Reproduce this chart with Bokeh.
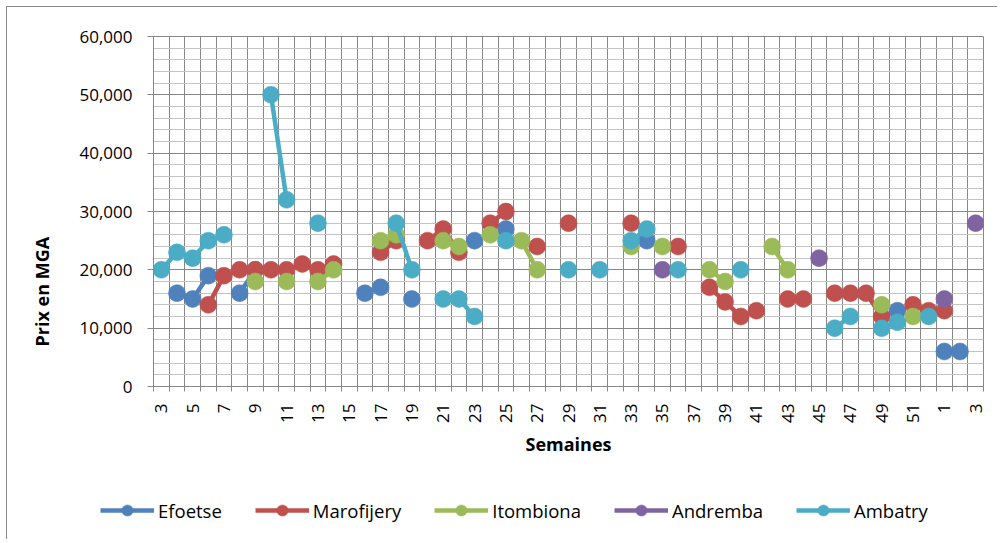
import math
import numpy as np
from bokeh.plotting import figure
from bokeh.layouts import column
from bokeh.models import (Range1d, FixedTicker, NumeralTickFormatter, Legend,
                          LegendItem, Title, ColumnDataSource)
from bokeh.embed import file_html
from bokeh.resources import INLINE

N = None

# Week labels (categories): weeks 3..52 then 1, 2, 3 of the following year
weeks = [str(w) for w in range(3, 53)] + ["1", "2", "3"]

#            3..12 / 13..22 / 23..32 / 33..42 / 43..52 / 1..3
efoetse = [N, 16000, 15000, 19000, N, 16000, 20000, N, N, N,
           N, N, N, 16000, 17000, N, 15000, N, N, N,
           25000, N, 27000, N, N, N, N, N, N, N,
           N, 25000, N, N, N, N, N, N, N, N,
           N, N, N, N, N, N, N, 13000, N, N,
           6000, 6000, N]

marofijery = [N, N, N, 14000, 19000, 20000, 20000, 20000, 20000, 21000,
              20000, 21000, N, N, 23000, 25000, N, 25000, 27000, 23000,
              N, 28000, 30000, N, 24000, N, 28000, N, N, N,
              28000, N, N, 24000, N, 17000, 14500, 12000, 13000, N,
              15000, 15000, N, 16000, 16000, 16000, 12000, N, 14000, 13000,
              13000, N, N]

itombiona = [N, N, N, N, N, N, 18000, N, 18000, N,
             18000, 20000, N, N, 25000, 26000, N, N, 25000, 24000,
             N, 26000, N, 25000, 20000, N, N, N, N, N,
             24000, N, 24000, N, N, 20000, 18000, N, N, 24000,
             20000, N, N, N, N, N, 14000, N, 12000, N,
             N, N, N]

andremba = [N, N, N, N, N, N, N, N, N, N,
            N, N, N, N, N, N, N, N, N, N,
            N, N, N, N, N, N, N, N, N, N,
            N, N, 20000, N, N, N, N, N, N, N,
            N, N, 22000, N, N, N, N, N, N, N,
            15000, N, 28000]

ambatry = [20000, 23000, 22000, 25000, 26000, N, N, 50000, 32000, N,
           28000, N, N, N, N, 28000, 20000, N, 15000, 15000,
           12000, N, 25000, N, N, N, 20000, N, 20000, N,
           25000, 27000, N, 20000, N, N, N, 20000, N, N,
           N, N, N, 10000, 12000, N, 10000, 11000, N, 12000,
           N, N, N]

series_names = ["Efoetse", "Marofijery", "Itombiona", "Andremba", "Ambatry"]
series_values = [efoetse, marofijery, itombiona, andremba, ambatry]
series_colors = ["#4F81BD", "#C0504D", "#9BBB59", "#8064A2", "#4BACC6"]

y_ticks = [0, 10000, 20000, 30000, 40000, 50000, 60000]

GRID = "#878787"
MINOR = "#c4c4c4"
FONT = "Open Sans"
LINE_W = 4.5
MARKER = 17

n = len(weeks)
xs = np.arange(n, dtype=float)

# ---------------- main chart ----------------
p = figure(width=990, height=470, output_backend="svg", toolbar_location=None,
           x_range=Range1d(-0.5, n - 0.5), y_range=Range1d(0, 60000),
           min_border_left=146, min_border_right=14, min_border_top=29,
           min_border_bottom=91)
p.frame_align = False
p.background_fill_color = "white"
p.border_fill_color = "white"
p.outline_line_color = GRID
p.outline_line_width = 1

# x axis: labels on every other week, tick marks between categories
p.xaxis.ticker = FixedTicker(ticks=list(range(0, n, 2)),
                             minor_ticks=[i - 0.5 for i in range(n + 1)])
p.xaxis.major_label_overrides = {i: weeks[i] for i in range(0, n, 2)}
p.xaxis.major_label_orientation = math.pi / 2
p.xaxis.major_tick_out = 0
p.xaxis.major_tick_in = 0
p.xaxis.minor_tick_out = 5
p.xaxis.minor_tick_in = 0
p.xaxis.minor_tick_line_color = GRID
p.xaxis.major_label_standoff = 12
p.xaxis.axis_label = "Semaines"
p.xaxis.axis_label_standoff = 6

# y axis
p.yaxis.ticker = FixedTicker(ticks=y_ticks, minor_ticks=list(range(0, 60001, 2000)))
p.yaxis.formatter = NumeralTickFormatter(format="0,0")
p.yaxis.major_tick_out = 6
p.yaxis.major_tick_in = 0
p.yaxis.minor_tick_out = 0
p.yaxis.minor_tick_in = 0
p.yaxis.major_label_standoff = 15

for ax in (p.xaxis[0], p.yaxis[0]):
    ax.axis_line_color = GRID
    ax.major_tick_line_color = GRID
    ax.major_label_text_font = FONT
    ax.major_label_text_font_size = "17px"
    ax.major_label_text_color = "black"
    ax.axis_label_text_font = FONT
    ax.axis_label_text_font_size = "18px"
    ax.axis_label_text_font_style = "bold"
    ax.axis_label_text_color = "black"

# grids
p.xgrid.ticker = FixedTicker(ticks=[i - 0.5 for i in range(n + 1)])
p.xgrid.grid_line_color = GRID
p.ygrid.grid_line_color = GRID
p.ygrid.minor_grid_line_color = MINOR

sources = []
for name, vals, col in zip(series_names, series_values, series_colors):
    ys = np.array([np.nan if v is None else v for v in vals], dtype=float)
    src = ColumnDataSource(dict(x=xs, y=ys))
    sources.append(src)
    p.line("x", "y", source=src, line_color=col, line_width=LINE_W)
    p.scatter("x", "y", source=src, size=MARKER, fill_color=col,
              line_color=col, line_width=0.5)

# y axis title, placed low on the left like the reference
p.add_layout(Title(text="Prix en MGA", align="left", vertical_align="top",
                   offset=40, standoff=42, text_font=FONT,
                   text_font_size="18px", text_font_style="bold",
                   text_color="black"), "left")

# ---------------- legend strip (same series, view range shows no data) ----------------
pl = figure(width=990, height=62, output_backend="svg", toolbar_location=None,
            x_range=Range1d(0, 1), y_range=Range1d(-2, -1),
            x_axis_location=None, y_axis_location=None, min_border=0)
pl.frame_align = False
pl.grid.visible = False
pl.outline_line_color = None
pl.background_fill_color = "white"
pl.border_fill_color = "white"

items = []
for name, col, src in zip(series_names, series_colors, sources):
    lr = pl.line("x", "y", source=src, line_color=col, line_width=LINE_W)
    sr = pl.scatter("x", "y", source=src, size=MARKER, fill_color=col,
                    line_color=col, line_width=0.5)
    items.append(LegendItem(label=name, renderers=[lr, sr]))

legend = Legend(items=items, location=(93, 15), orientation="horizontal",
                padding=0, margin=0, spacing=33,
                border_line_color=None, background_fill_alpha=0,
                glyph_width=54, glyph_height=28, label_standoff=4,
                label_text_font=FONT, label_text_font_size="18.5px",
                label_text_color="black", label_text_baseline="middle")
pl.add_layout(legend, "center")

layout = column(p, pl, spacing=0)
layout.styles = {"margin-left": "6px", "margin-top": "6px",
                 "border-left": "1px solid #8a8a8a",
                 "border-top": "1px solid #8a8a8a"}

open("out.html", "w").write(file_html(layout, INLINE))
